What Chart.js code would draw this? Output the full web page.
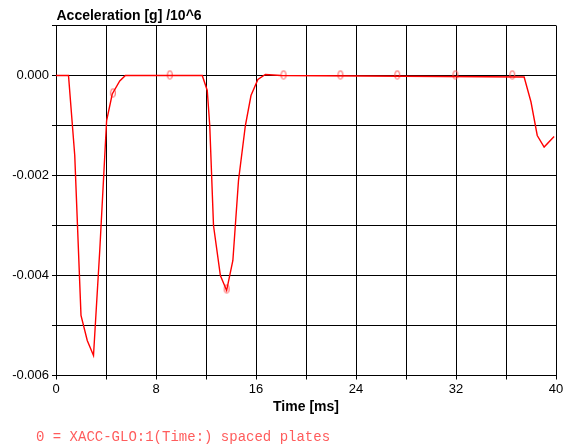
<!DOCTYPE html>
<html>
<head>
<meta charset="utf-8">
<script src="https://cdn.jsdelivr.net/npm/chart.js@4/dist/chart.umd.min.js"></script>
<style>
  html, body { margin: 0; padding: 0; background: #fff; }
  #wrap { width: 564px; height: 445px; position: relative; }
</style>
</head>
<body>
<div id="wrap"><canvas id="chart" width="564" height="445"></canvas></div>
<script>
// time [ms] and acceleration [g] /10^6
const times = [0, 1.0, 1.5, 2.0, 2.5, 3.0, 3.5, 4.05, 4.5, 5.1, 5.55,
  11.7, 12.1, 12.3, 12.6, 13.15, 13.65, 14.15, 14.6, 15.15, 15.6, 16.15, 16.75, 18.0,
  37.45, 38.0, 38.5, 39.05, 39.85]
const accel = [0, 0, -0.0016, -0.0048, -0.0053, -0.0056, -0.0035, -0.0009, -0.00037, -0.00011, 0,
  0, -0.0003, -0.001, -0.003, -0.004, -0.0043, -0.0037, -0.0021, -0.001, -0.0004, -0.00008, 0.00002, 0,
  -0.00003, -0.00053, -0.0012, -0.00143, -0.00122]

// symbol "0" positions along the curve
const markerTimes = [4.55, 9.1, 13.65, 18.2, 22.75, 27.3, 31.95, 36.5]
const markerAccel = [-0.00036, 0, -0.00428, 0, 0, 0, 0, 0]

const xTicks = [0, 8, 16, 24, 32, 40]
const yTicks = [0, -0.002, -0.004, -0.006]

const chartTitle = 'Acceleration [g] /10^6'
const xTitle = 'Time [ms]'
const legendText = '0 = XACC-GLO:1(Time:) spaced plates'

const curveColor = '#ff0000'
const markColor = '#ff5c5c'

function makeZero() {
  const c = document.createElement('canvas')
  c.width = 10
  c.height = 14
  const ctx = c.getContext('2d')
  ctx.fillStyle = markColor
  ctx.font = '12px "Liberation Sans", Arial, sans-serif'
  ctx.textAlign = 'center'
  ctx.textBaseline = 'middle'
  ctx.fillText('0', 5, 7.5)
  return c
}

const textPlugin = {
  id: 'texts',
  afterDraw(chart) {
    const ctx = chart.ctx
    const area = chart.chartArea
    ctx.save()
    ctx.fillStyle = '#000'
    ctx.font = 'bold 14px "Liberation Sans", Arial, sans-serif'
    ctx.textBaseline = 'alphabetic'
    ctx.textAlign = 'left'
    ctx.fillText(chartTitle, area.left + 0.5, 20)
    ctx.textAlign = 'center'
    ctx.textBaseline = 'middle'
    ctx.fillText(xTitle, (area.left + area.right) / 2, 407.5)
    ctx.fillStyle = markColor
    ctx.font = '14px "Liberation Mono", "Courier New", monospace'
    ctx.textAlign = 'left'
    ctx.fillText(legendText, 36, 437)
    ctx.restore()
  },
}

const tickFont = { family: '"Liberation Sans", Arial, sans-serif', size: 13 }

new Chart(document.getElementById('chart').getContext('2d'), {
  type: 'line',
  data: {
    datasets: [
      {
        data: times.map((t, i) => ({ x: t, y: accel[i] })),
        borderColor: curveColor,
        borderWidth: 1.4,
        pointRadius: 0,
        tension: 0,
      },
      {
        data: markerTimes.map((t, i) => ({ x: t, y: markerAccel[i] })),
        showLine: false,
        pointStyle: makeZero(),
        pointRadius: 5,
      },
    ],
  },
  options: {
    animation: false,
    responsive: false,
    layout: { padding: { top: 25.5, right: 8, left: 0, bottom: 0 } },
    plugins: {
      legend: { display: false },
      tooltip: { enabled: false },
    },
    scales: {
      x: {
        type: 'linear',
        min: 0,
        max: 40,
        afterBuildTicks: (s) => {
          s.ticks = []
          for (let v = 0; v <= 40; v += 4) s.ticks.push({ value: v })
        },
        afterFit: (s) => { s.height = 69.5; s.paddingRight = 0; s.paddingLeft = 0 },
        ticks: {
          color: '#000',
          font: tickFont,
          padding: 2,
          maxRotation: 0,
          autoSkip: false,
          callback: (v) => (xTicks.includes(v) ? String(v) : ''),
        },
        grid: { color: '#000', lineWidth: 1, tickLength: 4 },
        border: { color: '#000', width: 1 },
      },
      y: {
        type: 'linear',
        min: -0.006,
        max: 0.001,
        afterBuildTicks: (s) => {
          s.ticks = []
          for (let k = -6; k <= 1; k++) s.ticks.push({ value: k / 1000 })
        },
        afterFit: (s) => { s.width = 56 },
        ticks: {
          color: '#000',
          font: tickFont,
          padding: 3,
          autoSkip: false,
          callback: (v) => {
            const k = Math.round(v * 1000)
            if (!yTicks.some((t) => Math.round(t * 1000) === k)) return ''
            return k === 0 ? '0.000' : (k / 1000).toFixed(3)
          },
        },
        grid: { color: '#000', lineWidth: 1, tickLength: 4 },
        border: { color: '#000', width: 1 },
      },
    },
  },
  plugins: [textPlugin],
})
</script>
</body>
</html>
